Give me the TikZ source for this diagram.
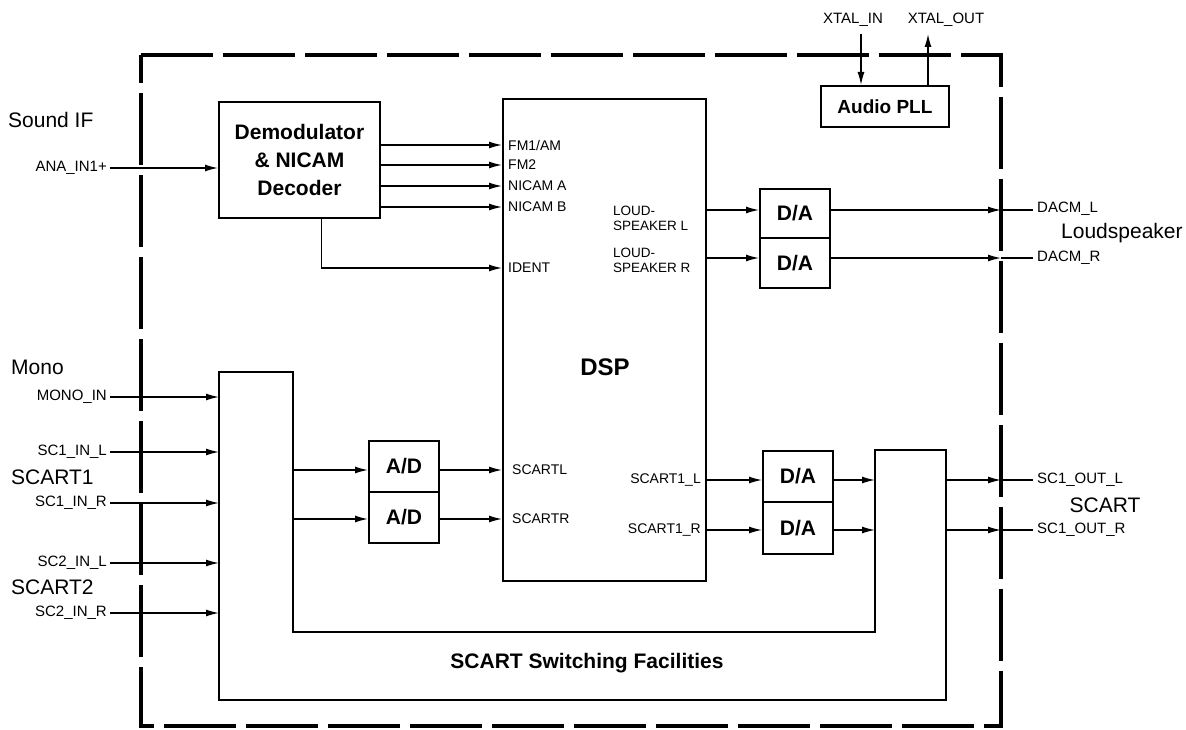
\documentclass[tikz,border=0pt]{standalone}
\usepackage{fontspec}
\setmainfont{Liberation Sans}
\usetikzlibrary{arrows.meta}
\begin{document}
\begin{tikzpicture}[x=1pt,y=-1pt,
  box/.style={draw, line width=1.9pt, inner sep=0pt, anchor=north west},
  arr/.style={line width=1.4pt, -{Latex[length=13pt,width=7pt]}},
  wire/.style={line width=1.4pt},
  frame/.style={line width=3.5pt, dash pattern=on 72pt off 10pt},
  sl/.style={font=\fontsize{15}{16}\selectfont, inner sep=0pt},
  dl/.style={font=\fontsize{14}{16}\selectfont, inner sep=0pt},
  bigl/.style={font=\fontsize{21}{23}\selectfont, inner sep=0pt},
  bb/.style={font=\bfseries\fontsize{21}{23}\selectfont}]
\useasboundingbox (0,0) rectangle (1186,730);

% outer dashed frame
\draw[frame] (141,55) -- (1001,55) -- (1001,726) -- (141,726) -- cycle;
\coordinate (fr) at (1001,0);

% row coordinates
\coordinate (yFM1) at (0,145);
\coordinate (yFM2) at (0,165);
\coordinate (yNA) at (0,186);
\coordinate (yNB) at (0,207);
\coordinate (yID) at (0,268);
\coordinate (yL) at (0,210);
\coordinate (yR) at (0,258);
\coordinate (yA1) at (0,470);
\coordinate (yA2) at (0,519);
\coordinate (yS1) at (0,480);
\coordinate (yS2) at (0,530);

% blocks
\node[box, minimum width=161pt, minimum height=116pt, align=center,
      font=\bfseries\fontsize{21}{28}\selectfont] (demod) at (218,101)
      {Demodulator\\\& NICAM\\Decoder};
\node[box, minimum width=203pt, minimum height=482pt] (dsp) at (502,98) {};
\node[font=\bfseries\fontsize{24}{28}\selectfont] (dsplab) at (605,367) {DSP};
\node[box, minimum width=128pt, minimum height=41pt, font=\bfseries\fontsize{19}{22}\selectfont] (pll) at (820,85) {Audio PLL};
\node[box, minimum width=70pt, minimum height=49pt, bb] (dal) at (759,188) {D/A};
\node[box, minimum width=70pt, minimum height=50pt, bb] (dar) at (759,237) {D/A};
\node[box, minimum width=70pt, minimum height=51pt, bb] (adl) at (368,440) {A/D};
\node[box, minimum width=70pt, minimum height=51pt, bb] (adr) at (368,491) {A/D};
\node[box, minimum width=70pt, minimum height=51pt, bb] (dsl) at (762,450) {D/A};
\node[box, minimum width=70pt, minimum height=52pt, bb] (dsr) at (762,501) {D/A};

% SCART switching U-shaped block
\coordinate (s1) at (219,372);
\coordinate (s2) at (293,372);
\coordinate (s3) at (293,632);
\coordinate (s4) at (875,632);
\coordinate (s5) at (875,450);
\coordinate (s6) at (946,450);
\coordinate (s7) at (946,700);
\coordinate (s8) at (219,700);
\draw[line width=1.9pt, line join=miter] (s1) -- (s2) -- (s3) -- (s4) -- (s5) -- (s6) -- (s7) -- (s8) -- cycle;
\node[font=\bfseries\fontsize{21}{23}\selectfont] (swlab) at (587,663) {SCART Switching Facilities};

% left big labels
\node[bigl, anchor=west] (soundif) at (8,120) {Sound IF};
\node[bigl, anchor=west] (monolab) at (11,367) {Mono};
\node[bigl, anchor=west] (sc1lab) at (11,477) {SCART1};
\node[bigl, anchor=west] (sc2lab) at (11,587) {SCART2};

% left inputs
\node[sl, anchor=east] (anain) at (107,168) {ANA\_IN1+};
\draw[arr] ([xshift=3pt]anain.east) -- (demod.west |- anain);
\node[sl, anchor=east] (monoin) at (107,397) {MONO\_IN};
\draw[arr] ([xshift=3pt]monoin.east) -- (s1 |- monoin);
\node[sl, anchor=east] (sc1il) at (107,452) {SC1\_IN\_L};
\draw[arr] ([xshift=3pt]sc1il.east) -- (s1 |- sc1il);
\node[sl, anchor=east] (sc1ir) at (107,503) {SC1\_IN\_R};
\draw[arr] ([xshift=3pt]sc1ir.east) -- (s1 |- sc1ir);
\node[sl, anchor=east] (sc2il) at (107,563) {SC2\_IN\_L};
\draw[arr] ([xshift=3pt]sc2il.east) -- (s1 |- sc2il);
\node[sl, anchor=east] (sc2ir) at (107,613) {SC2\_IN\_R};
\draw[arr] ([xshift=3pt]sc2ir.east) -- (s1 |- sc2ir);

% demod to DSP
\draw[arr] (demod.east |- yFM1) -- (dsp.west |- yFM1);
\draw[arr] (demod.east |- yFM2) -- (dsp.west |- yFM2);
\draw[arr] (demod.east |- yNA) -- (dsp.west |- yNA);
\draw[arr] (demod.east |- yNB) -- (dsp.west |- yNB);
\draw[arr] ([xshift=22pt]demod.south) |- (dsp.west |- yID);
\node[dl, anchor=west] (lfm1) at (508,145) {FM1/AM};
\node[dl, anchor=west] (lfm2) at (508,165) {FM2};
\node[dl, anchor=west] (lna) at (508,186) {NICAM A};
\node[dl, anchor=west] (lnb) at (508,207) {NICAM B};
\node[dl, anchor=west] (lid) at (508,268) {IDENT};

% loudspeaker outputs
\node[dl, anchor=west, align=left, font=\fontsize{13.5}{15}\selectfont] (lsl) at (613,218) {LOUD-\\SPEAKER L};
\node[dl, anchor=west, align=left, font=\fontsize{13.5}{15}\selectfont] (lsr) at (613,260) {LOUD-\\SPEAKER R};
\draw[arr] (dsp.east |- yL) -- (dal.west |- yL);
\draw[arr] (dsp.east |- yR) -- (dar.west |- yR);
\draw[arr] (dal.east |- yL) -- (fr |- yL);
\draw[arr] (dar.east |- yR) -- (fr |- yR);
\node[sl, anchor=west] (dacml) at (1037,209) {DACM\_L};
\node[sl, anchor=west] (dacmr) at (1037,258) {DACM\_R};
\draw[wire] (fr |- yL) -- ([xshift=-4pt]dacml.west |- yL);
\draw[wire] (fr |- yR) -- ([xshift=-4pt]dacmr.west |- yR);
\node[bigl, anchor=west] (lslab) at (1061,233) {Loudspeaker};

% crystal
\node[sl] (xin) at (853,20) {XTAL\_IN};
\node[sl] (xout) at (946,20) {XTAL\_OUT};
\coordinate (xinp) at (861,34);
\coordinate (xoutp) at (928,34);
\draw[arr] (xinp) -- (pll.north -| xinp);
\draw[arr] (pll.north -| xoutp) -- (xoutp);

% SCART inputs to DSP
\draw[arr] (s2 |- yA1) -- (adl.west |- yA1);
\draw[arr] (s2 |- yA2) -- (adr.west |- yA2);
\draw[arr] (adl.east |- yA1) -- (dsp.west |- yA1);
\draw[arr] (adr.east |- yA2) -- (dsp.west |- yA2);
\node[dl, anchor=west] (lscl) at (512,470) {SCARTL};
\node[dl, anchor=west] (lscr) at (512,519) {SCARTR};

% SCART outputs
\node[dl, anchor=east] (lsc1l) at (701,480) {SCART1\_L};
\node[dl, anchor=east] (lsc1r) at (701,530) {SCART1\_R};
\draw[arr] (dsp.east |- yS1) -- (dsl.west |- yS1);
\draw[arr] (dsp.east |- yS2) -- (dsr.west |- yS2);
\draw[arr] (dsl.east |- yS1) -- (s5 |- yS1);
\draw[arr] (dsr.east |- yS2) -- (s5 |- yS2);
\draw[arr] (s6 |- yS1) -- (fr |- yS1);
\draw[arr] (s6 |- yS2) -- (fr |- yS2);
\node[sl, anchor=west] (sc1ol) at (1037,480) {SC1\_OUT\_L};
\node[sl, anchor=west] (sc1or) at (1037,530) {SC1\_OUT\_R};
\draw[wire] (fr |- yS1) -- ([xshift=-4pt]sc1ol.west |- yS1);
\draw[wire] (fr |- yS2) -- ([xshift=-4pt]sc1or.west |- yS2);
\node[bigl] (scartlab) at (1105,505) {SCART};
\end{tikzpicture}
\end{document}
